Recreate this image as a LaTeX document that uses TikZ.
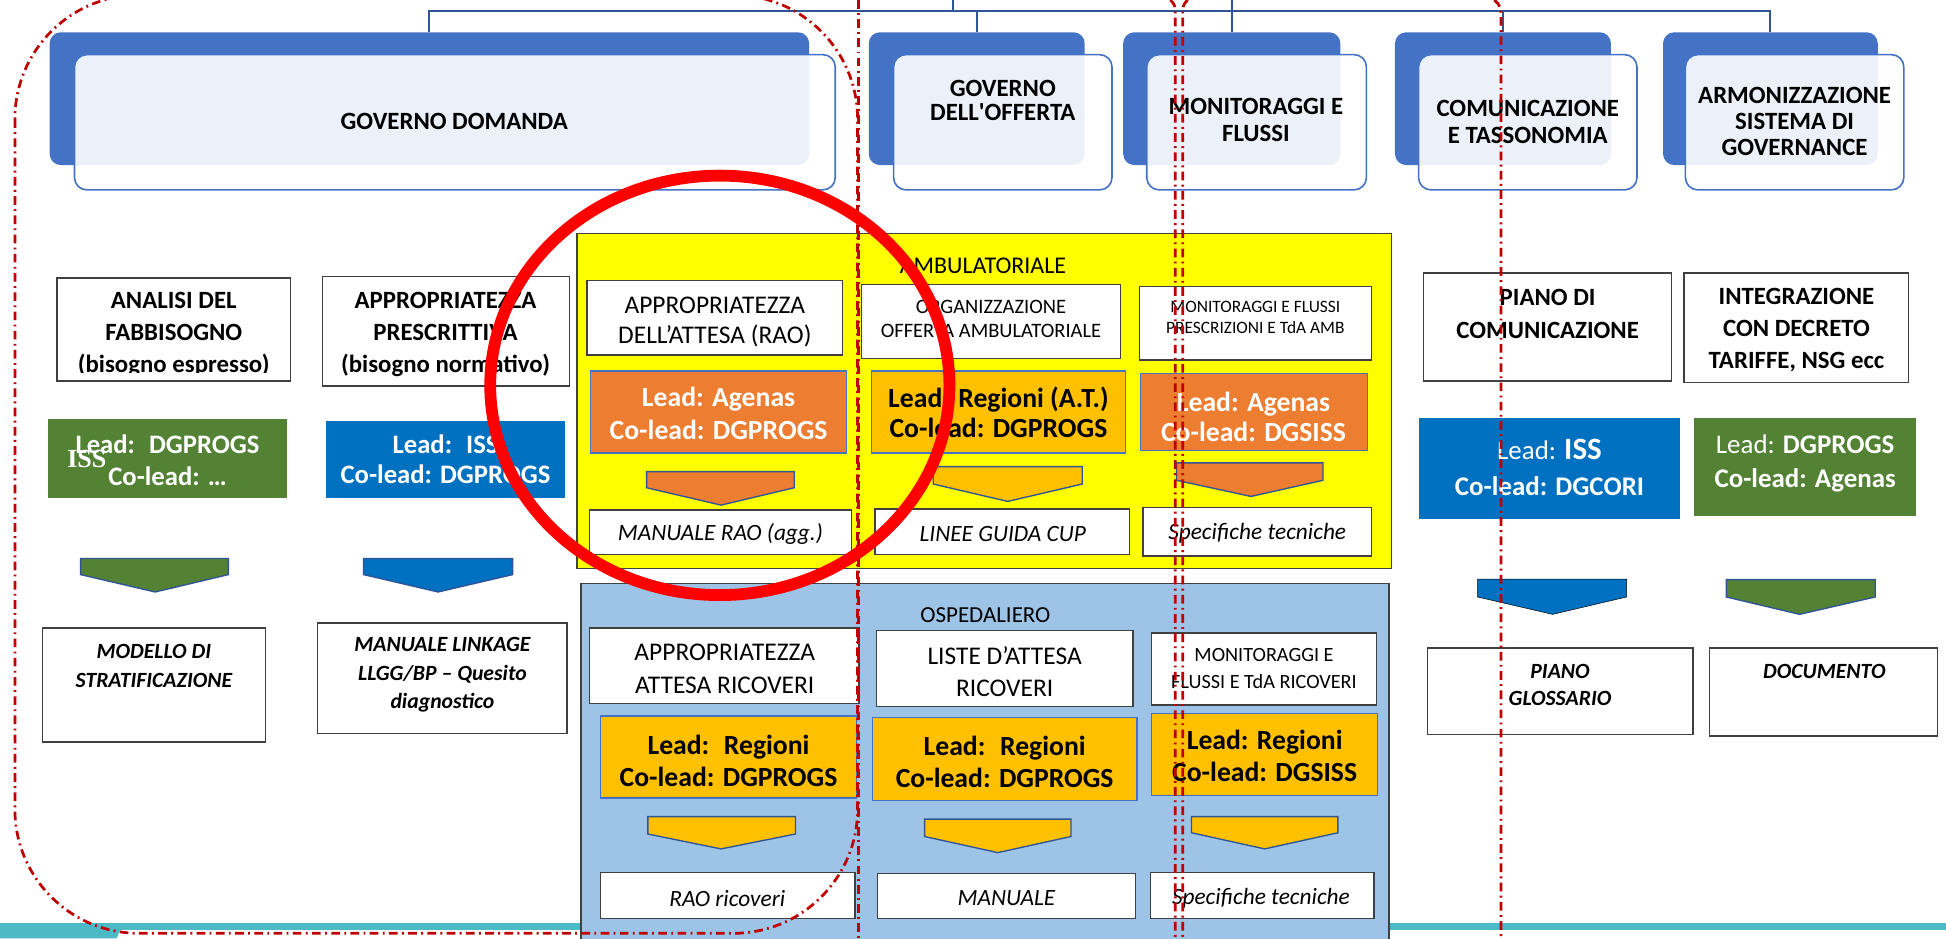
\documentclass[tikz,border=0pt]{standalone}
\usepackage{fontspec}
\setmainfont{Carlito}
\newfontfamily\issfont{Liberation Serif}
\usetikzlibrary{fit}
\definecolor{dkblue}{HTML}{4472C4}
\definecolor{lnblue}{HTML}{2F5597}
\definecolor{ggreen}{HTML}{548235}
\definecolor{bblue}{HTML}{0070C0}
\definecolor{orng}{HTML}{ED7D31}
\definecolor{goldc}{HTML}{FFC000}
\definecolor{yel}{HTML}{FFFF00}
\definecolor{lblue}{HTML}{9DC3E6}
\definecolor{ddred}{HTML}{C00000}
\definecolor{tealc}{HTML}{4BBAC6}
\definecolor{bordc}{HTML}{404040}
\newcommand\mkchev[7]{\draw[#1] (#2,#3) -- (#4,#3) -- (#4,#5) -- (#6,#7) -- (#2,#5) -- cycle;}
\begin{document}
\begin{tikzpicture}[x=1pt,y=-1pt,
  every node/.style={inner sep=0pt, outer sep=0pt},
  darkb/.style={fill=dkblue, rounded corners=9pt},
  lightb/.style={fill=white, fill opacity=0.9, draw=dkblue, line width=1.3pt, rounded corners=10pt},
  topt/.style={font=\fontsize{20}{21}\selectfont\bfseries, align=center},
  tbox/.style={draw=bordc, line width=1.1pt, fill=white},
  ttlb/.style={font=\fontsize{20}{25.5}\selectfont\bfseries, align=center},
  ttlr/.style={font=\fontsize{20.5}{25}\selectfont, align=center},
  leadt/.style={font=\fontsize{22.3}{26}\selectfont\bfseries, align=center},
  outbi/.style={font=\fontsize{17.5}{23}\selectfont\bfseries\itshape, align=center},
  outi/.style={font=\fontsize{18.8}{22}\selectfont\itshape, align=center},
  leadbox/.style={draw=dkblue, line width=1.1pt},
  chevb/.style={draw=lnblue, line width=1.1pt},
  ddot/.style={draw=ddred, line width=2.2pt, dash pattern=on 7pt off 3.5pt on 1.5pt off 3.5pt},
  conn/.style={draw=lnblue, line width=1.5pt},
  region/.style={draw=bordc, line width=1.2pt},
]
\useasboundingbox (0,0) rectangle (1568,756);
\clip (0,0) rectangle (1568,756);

% bottom teal band
\fill[tealc] (0,744) rectangle (1568,749);
\fill[tealc] (0,744) -- (99,744) -- (94,756) -- (0,756) -- cycle;

% root (cut off) and org connectors
\node[fit={(768,-30) (993,9)}, draw=lnblue, line width=1.5pt, fill=white] (root) {};

% top boxes
\node[fit={(40,26) (652,133)}, darkb] (domd) {};
\node[fit={(60,44) (673,153)}, lightb] (doml) {};
\node[topt] (domt) at (366,98) {GOVERNO DOMANDA};

\node[fit={(700,26) (874,133)}, darkb] (offd) {};
\node[fit={(720,44) (896,153)}, lightb] (offl) {};
\node[topt, font=\fontsize{20}{20}\selectfont\bfseries] (offt) at (808,81) {GOVERNO\\DELL\textquotesingle OFFERTA};

\node[fit={(905,26) (1080,133)}, darkb] (mond) {};
\node[fit={(924,44) (1101,153)}, lightb] (monl) {};
\node[topt, font=\fontsize{20}{22}\selectfont\bfseries] (mont) at (1012,96.5) {MONITORAGGI E\\FLUSSI};

\node[fit={(1124,26) (1298,133)}, darkb] (comd) {};
\node[fit={(1143,44) (1319,153)}, lightb] (coml) {};
\node[topt, font=\fontsize{20}{22}\selectfont\bfseries] (comt) at (1231,98) {COMUNICAZIONE\\E TASSONOMIA};

\node[fit={(1340,26) (1513,133)}, darkb] (armd) {};
\node[fit={(1358,44) (1534,153)}, lightb] (arml) {};
\node[topt] (armt) at (1446,97.5) {ARMONIZZAZIONE\\SISTEMA DI\\GOVERNANCE};

\foreach \c in {domd,offd,mond,comd,armd}{\draw[conn] (root.south) -| (\c.north);}

% left column 1
\node[fit={(46,224) (234,307)}, tbox] (b1) {};
\begin{scope}
\clip (40,215) rectangle (240,300);
\node[ttlb] (b1t) at (140,269.5) {ANALISI DEL\\FABBISOGNO\\(bisogno espresso)};
\end{scope}
\node[fit={(39,338) (231,401)}, fill=ggreen] (l1) {};
\node[leadt, font=\fontsize{21.5}{26}\selectfont\bfseries, text=white] (l1t) at (135,371) {Lead:~ DGPROGS\\Co-lead: …};
\node[text=white, font=\fontsize{21}{21}\selectfont\issfont\bfseries] (l1iss) at (70,370) {ISS};
\mkchev{fill=ggreen, chevb}{65}{450}{184}{463}{125}{477}
\node[fit={(34,506) (214,598)}, tbox] (o1) {};
\node[outbi] (o1t) at (124,536.5) {MODELLO DI\\STRATIFICAZIONE};

% left column 2
\node[fit={(260,223) (459,311)}, tbox] (b2) {};
\node[ttlb] (b2t) at (359,269.5) {APPROPRIATEZZA\\PRESCRITTIVA\\(bisogno normativo)};
\node[fit={(263,339) (455,401)}, fill=bblue] (l2) {};
\node[leadt, font=\fontsize{21.5}{24}\selectfont\bfseries, text=white] (l2t) at (359,370) {Lead:~ ISS\\Co-lead: DGPROGS};
\mkchev{fill=bblue, chevb}{293}{450}{413}{463}{353}{477}
\node[fit={(256,502) (457,591)}, tbox] (o2) {};
\node[outbi] (o2t) at (356.5,544) {MANUALE LINKAGE\\LLGG/BP – Quesito\\diagnostico};

% AMBULATORIALE
\node[fit={(465,188) (1121,458)}, region, fill=yel] (amb) {};
\node[font=\fontsize{19.3}{19}\selectfont] (ambt) at (792,214) {AMBULATORIALE};
\node[fit={(473,226) (679,286)}, tbox] (ya1) {};
\node[ttlr, font=\fontsize{20.5}{24.5}\selectfont] (ya1t) at (576,259.3) {APPROPRIATEZZA\\DELL’ATTESA (RAO)};
\node[fit={(694,229) (903,289)}, tbox] (ya2) {};
\node[ttlr, font=\fontsize{16.5}{20}\selectfont] (ya2t) at (798.5,257) {ORGANIZZAZIONE\\OFFERTA AMBULATORIALE};
\node[fit={(918,231) (1105,290)}, tbox] (ya3) {};
\node[ttlr, font=\fontsize{14}{17}\selectfont] (ya3t) at (1011.5,255.5) {MONITORAGGI E FLUSSI\\PRESCRIZIONI E TdA AMB};
\node[fit={(476,299) (682,365)}, leadbox, fill=orng] (yl1) {};
\node[leadt, text=white] (yl1t) at (579,333) {Lead: Agenas\\Co-lead: DGPROGS};
\node[fit={(702,299) (907,365)}, leadbox, fill=goldc] (yl2) {};
\node[leadt, font=\fontsize{22.3}{24}\selectfont\bfseries] (yl2t) at (804.5,332) {Lead: Regioni (A.T.)\\Co-lead: DGPROGS};
\node[fit={(919,301) (1102,363)}, leadbox, fill=orng] (yl3) {};
\node[leadt, font=\fontsize{22.3}{24}\selectfont\bfseries, text=white] (yl3t) at (1010,336) {Lead: Agenas\\Co-lead: DGSISS};
\mkchev{fill=orng, chevb}{521}{380}{640}{393}{581}{407}
\mkchev{fill=goldc, chevb}{752}{376}{872}{390}{812}{404}
\mkchev{fill=orng, chevb}{948}{373}{1066}{387}{1008}{400}
\node[fit={(475,411) (686,447)}, tbox] (yo1) {};
\node[outi] (yo1t) at (580.5,430) {MANUALE RAO (agg.)};
\node[fit={(705,410) (910,447)}, tbox] (yo2) {};
\node[outi] (yo2t) at (808,430) {LINEE GUIDA CUP};
\node[fit={(921,409) (1105,448)}, tbox] (yo3) {};
\node[outi] (yo3t) at (1013,430) {Specifiche tecniche};

% OSPEDALIERO
\node[fit={(468,470) (1119,770)}, region, fill=lblue] (osp) {};
\node[font=\fontsize{18.5}{18}\selectfont] (ospt) at (794,495.5) {OSPEDALIERO};
\node[fit={(475,506) (692,567)}, tbox] (ba1) {};
\node[ttlr, font=\fontsize{20.5}{26}\selectfont] (ba1t) at (584,539) {APPROPRIATEZZA\\ATTESA RICOVERI};
\node[fit={(706,508) (913,569)}, tbox] (ba2) {};
\node[ttlr, font=\fontsize{20.5}{26}\selectfont] (ba2t) at (809.5,541.3) {LISTE D’ATTESA\\RICOVERI};
\node[fit={(928,510) (1109,568)}, tbox] (ba3) {};
\node[ttlr, font=\fontsize{16.3}{21.6}\selectfont] (ba3t) at (1018.5,538.8) {MONITORAGGI E\\FLUSSI E TdA RICOVERI};
\node[fit={(484,577) (690,643)}, leadbox, fill=goldc] (bl1) {};
\node[leadt] (bl1t) at (587,613) {Lead:~ Regioni\\Co-lead: DGPROGS};
\node[fit={(703,578) (916,645)}, leadbox, fill=goldc] (bl2) {};
\node[leadt] (bl2t) at (809.5,614) {Lead:~ Regioni\\Co-lead: DGPROGS};
\node[fit={(928,575) (1110,641)}, leadbox, fill=goldc] (bl3) {};
\node[leadt] (bl3t) at (1019,609) {Lead: Regioni\\Co-lead: DGSISS};
\mkchev{fill=goldc, chevb}{522}{658}{641}{672}{581}{684}
\mkchev{fill=goldc, chevb}{745}{660}{863}{674}{804}{687}
\mkchev{fill=goldc, chevb}{960}{658}{1078}{671}{1019}{684}
\node[fit={(484,703) (689,740)}, tbox] (bo1) {};
\node[outi] (bo1t) at (586,724) {RAO ricoveri};
\node[fit={(707,704) (915,740)}, tbox] (bo2) {};
\node[outi] (bo2t) at (811,724) {MANUALE};
\node[fit={(927,703) (1107,740)}, tbox] (bo3) {};
\node[outi] (bo3t) at (1016,724) {Specifiche tecniche};

% right columns
\node[fit={(1147,220) (1347,307)}, tbox] (r1) {};
\node[ttlb, font=\fontsize{20}{26}\selectfont\bfseries] (r1t) at (1247,253) {PIANO DI\\COMUNICAZIONE};
\node[fit={(1357,220) (1538,308)}, tbox] (r2) {};
\node[ttlb, font=\fontsize{20}{26}\selectfont\bfseries] (r2t) at (1447.5,266) {INTEGRAZIONE\\CON DECRETO\\TARIFFE, NSG ecc};
\node[fit={(1143,337) (1354,418)}, fill=bblue] (rl1) {};
\node[leadt, font=\fontsize{21.7}{29}\selectfont\bfseries, text=white] (rl1t) at (1248.5,376.5) {{\mdseries Lead: }{\fontsize{25}{29}\selectfont ISS}\\Co-lead: DGCORI};
\node[fit={(1365,337) (1544,416)}, fill=ggreen] (rl2) {};
\node[leadt, font=\fontsize{21.7}{27}\selectfont\bfseries, text=white] (rl2t) at (1454.5,373.5) {{\mdseries Lead:} DGPROGS\\Co-lead: Agenas};
\mkchev{fill=bblue}{1190.5}{466.6}{1310.7}{481}{1251}{495}
\mkchev{fill=ggreen, chevb}{1391}{467}{1511}{481}{1450}{495}
\node[fit={(1150,522) (1364,591.6)}, tbox] (ro1) {};
\node[outbi, font=\fontsize{17.5}{22}\selectfont\bfseries\itshape] (ro1t) at (1257,552) {PIANO\\GLOSSARIO};
\node[fit={(1377.6,522) (1561,593)}, tbox] (ro2) {};
\node[outbi] (ro2t) at (1470,541) {DOCUMENTO};

% dash-dot annotations
\draw[ddot, rounded corners=100pt] (12,-4) rectangle (691,752);
\draw[ddot] (692,0) -- (692,756);
\draw[ddot] (943,0) .. controls (947,4) .. (947,16) -- (947,756);
\draw[ddot] (957,0) .. controls (953,4) .. (953,16) -- (953,756);
\draw[ddot] (1204,0) .. controls (1209.5,5) .. (1209.5,20) -- (1209.5,756);

% red circle
\draw[red, line width=9.5pt] (580,310.5) ellipse [x radius=185pt, y radius=169pt];
\end{tikzpicture}
\end{document}
